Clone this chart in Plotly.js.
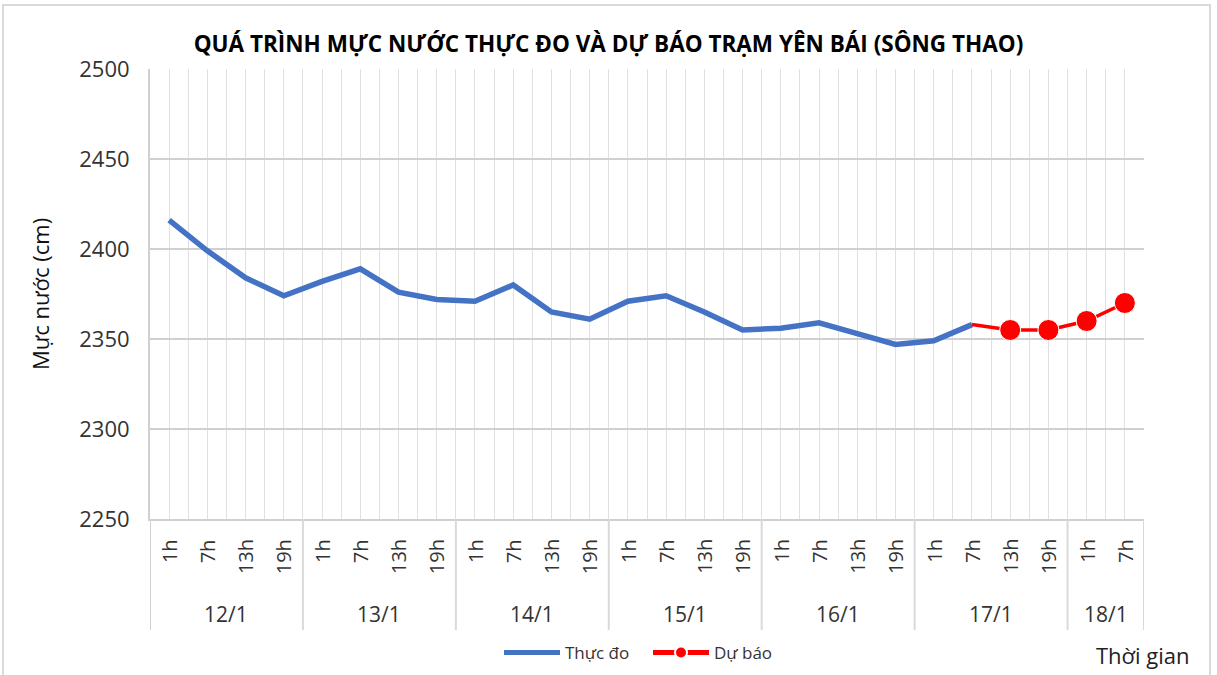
<!DOCTYPE html>
<html>
<head>
<meta charset="utf-8">
<script src="https://cdn.plot.ly/plotly-3.0.1.min.js"></script>
<style>
  html, body { margin: 0; padding: 0; background: #fff; }
  #wrap { position: relative; width: 1217px; height: 675px; overflow: hidden; }
  #chart { position: absolute; left: 0; top: 0; width: 1217px; height: 675px; }
  #frame { position: absolute; left: 2px; top: 4px; width: 1209px; height: 700px;
           border: 2px solid #d9d9d9; pointer-events: none; box-sizing: border-box; }
</style>
</head>
<body>
<div id="wrap">
  <div id="chart"></div>
  <div id="frame"></div>
</div>
<script>
// ---- data ----
const dayLabels = ['12/1', '13/1', '14/1', '15/1', '16/1', '17/1', '18/1'];
const dayCounts = [4, 4, 4, 4, 4, 4, 2];
const hourLabels = ['1h','7h','13h','19h','1h','7h','13h','19h','1h','7h','13h','19h',
                    '1h','7h','13h','19h','1h','7h','13h','19h','1h','7h','13h','19h',
                    '1h','7h'];
const observed = [2416, 2399, 2384, 2374, 2382, 2389, 2376, 2372, 2371, 2380, 2365, 2361,
                  2371, 2374, 2365, 2355, 2356, 2359, 2353, 2347, 2349, 2358];
const forecast = [2358, 2355, 2355, 2360, 2370];
const forecastStart = 21; // forecast begins at 7h 17/1
const yTicks = [2250, 2300, 2350, 2400, 2450, 2500];

// ---- build ----
const FONT = 'Open Sans, Noto Sans, sans-serif';
const TXT = '#333333';
const xObs = observed.map((_, i) => i);
const xFc = forecast.map((_, i) => forecastStart + i);
const fcSizes = forecast.map((_, i) => i === 0 ? 0 : 21);

const traces = [
  { x: xObs, y: observed, type: 'scatter', mode: 'lines', name: 'Thực đo',
    line: { color: '#4472C4', width: 5.5 } },
  { x: xFc, y: forecast, type: 'scatter', mode: 'lines+markers', name: 'Dự báo',
    line: { color: '#FF0000', width: 3.5 },
    marker: { color: '#FF0000', size: fcSizes, opacity: 1 } }
];

const n = hourLabels.length;
const annotations = [];
hourLabels.forEach((h, i) => {
  annotations.push({ x: i, y: -0.04, xref: 'x', yref: 'paper', text: h, showarrow: false,
    textangle: -90, xanchor: 'center', yanchor: 'top',
    font: { family: FONT, size: 20, color: TXT } });
});
const shapes = [];
let start = 0;
shapes.push({ type: 'line', xref: 'x', yref: 'paper', x0: -0.5, x1: -0.5, y0: 0, y1: -0.2467,
  line: { color: '#d0d0d0', width: 2 } });
dayLabels.forEach((d, k) => {
  const c = dayCounts[k];
  const center = start + (c - 1) / 2;
  annotations.push({ x: center, y: -0.211, xref: 'x', yref: 'paper', text: d, showarrow: false,
    xanchor: 'center', yanchor: 'middle', font: { family: FONT, size: 21, color: TXT } });
  const b = start + c - 0.5;
  shapes.push({ type: 'line', xref: 'x', yref: 'paper', x0: b, x1: b, y0: 0, y1: -0.2467,
    line: { color: '#d9d9d9', width: 2 } });
  start += c;
});
annotations.push({ x: 0.999, y: -0.303, xref: 'paper', yref: 'paper', text: 'Thời gian',
  showarrow: false, xanchor: 'center', yanchor: 'middle',
  font: { family: FONT, size: 22, color: '#222' } });

const layout = {
  width: 1217, height: 675,
  margin: { l: 150, r: 73, t: 69, b: 156 },
  paper_bgcolor: '#fff', plot_bgcolor: '#fff',
  title: { text: '<b>QUÁ TRÌNH MỰC NƯỚC THỰC ĐO VÀ DỰ BÁO TRẠM YÊN BÁI (SÔNG THAO)</b>',
    x: 0.5, xref: 'container', xanchor: 'center', y: 1 - 44 / 675, yref: 'container',
    yanchor: 'middle', font: { family: FONT, size: 22.5, color: '#000' } },
  xaxis: { range: [-0.5, n - 0.5], tickmode: 'linear', tick0: -0.5, dtick: 0.5,
    showticklabels: false, ticks: '', showgrid: true, gridcolor: '#e0e0e0', gridwidth: 1,
    zeroline: false, showline: true, linecolor: '#d0d0d0', linewidth: 2, fixedrange: true },
  yaxis: { range: [yTicks[0], yTicks[yTicks.length - 1]], tickmode: 'array', tickvals: yTicks,
    ticks: '', showgrid: true, gridcolor: '#d0d0d0', gridwidth: 2, zeroline: false,
    showline: true, linecolor: '#d0d0d0', linewidth: 2, ticklabelstandoff: 14,
    tickfont: { family: FONT, size: 22, color: TXT },
    title: { text: 'Mực nước (cm)', standoff: 24, font: { family: FONT, size: 22, color: '#111' } },
    fixedrange: true },
  showlegend: true,
  legend: { orientation: 'h', xref: 'container', yref: 'container',
    x: 648 / 1217, xanchor: 'center', y: 1 - 653 / 675, yanchor: 'middle',
    font: { family: FONT, size: 17, color: TXT }, itemsizing: 'constant',
    itemwidth: 56, entrywidth: 78, bgcolor: 'rgba(0,0,0,0)' },
  annotations: annotations,
  shapes: shapes
};

Plotly.newPlot('chart', traces, layout, { displayModeBar: false, staticPlot: true });
</script>
</body>
</html>
